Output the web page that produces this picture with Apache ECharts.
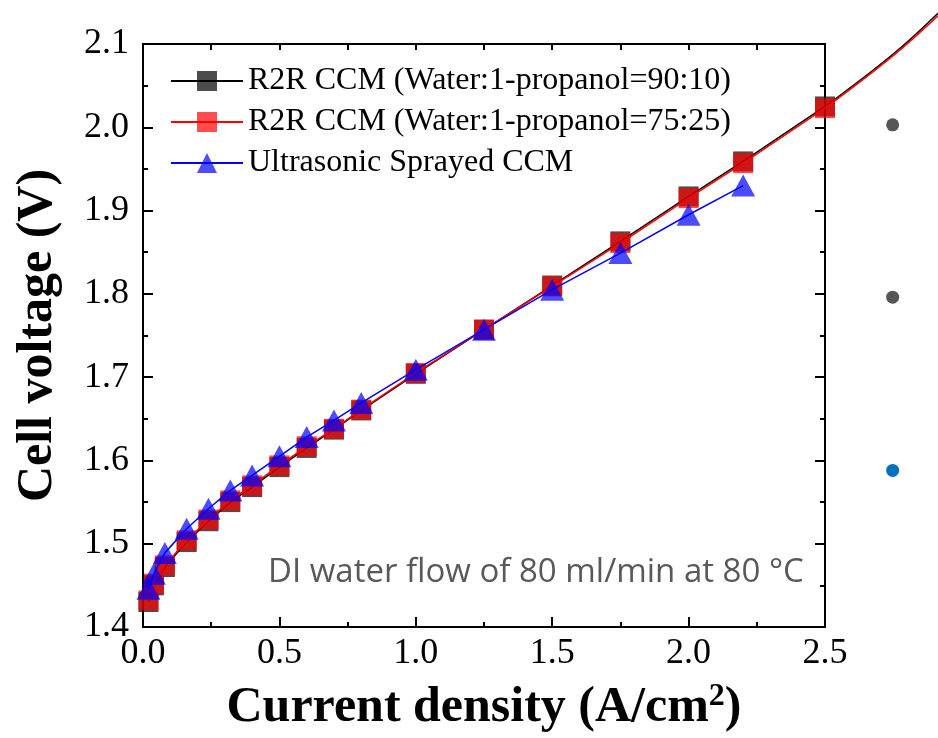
<!DOCTYPE html>
<html>
<head>
<meta charset="utf-8">
<script src="https://cdn.jsdelivr.net/npm/echarts@6/dist/echarts.min.js"></script>
<style>html,body{margin:0;padding:0;background:#fff;}#c{width:938px;height:738px;}</style>
</head>
<body>
<div id="c"></div>
<script>
// Current density (A/cm2)
const currentR2R = [0.02,0.04,0.08,0.16,0.24,0.32,0.4,0.5,0.6,0.7,0.8,1.0,1.25,1.5,1.75,2.0,2.2,2.5];
const currentUS  = [0.02,0.04,0.08,0.16,0.24,0.32,0.4,0.5,0.6,0.7,0.8,1.0,1.25,1.5,1.75,2.0,2.2];
// Cell voltage (V)
const voltR2R_90_10 = [1.430,1.450,1.472,1.502,1.527,1.550,1.568,1.592,1.615,1.637,1.660,1.704,1.757,1.810,1.863,1.917,1.959,2.025];
const voltR2R_75_25 = [1.432,1.452,1.474,1.504,1.529,1.552,1.570,1.594,1.617,1.638,1.661,1.705,1.757,1.809,1.861,1.915,1.957,2.023];
const voltUS        = [1.446,1.464,1.489,1.518,1.542,1.564,1.582,1.605,1.628,1.648,1.669,1.709,1.757,1.805,1.849,1.895,1.930];
// fit-line continuation past the frame (current, voltage)
const tail_90_10 = [[2.75, 2.088], [2.914, 2.137]];
const tail_75_25 = [[2.75, 2.086], [2.914, 2.134]];
// stray markers at the right edge (current, voltage)
const strayDots = [[2.748, 2.003], [2.748, 1.796], [2.748, 1.588]];
const strayColors = ['#555555', '#555555', '#0070C0'];
const seriesNames = ['R2R CCM (Water:1-propanol=90:10)', 'R2R CCM (Water:1-propanol=75:25)', 'Ultrasonic Sprayed CCM'];
const xTicks = {min: 0, max: 2.5, interval: 0.5};
const yTicks = {min: 1.4, max: 2.1, interval: 0.1};
const note = 'DI water flow of 80 ml/min at 80 °C';

function pts(xs, ys) { return xs.map((x, i) => [x, ys[i]]); }

// layout of the plot frame (pixels)
const W = 938, H = 738, G = {left: 143, right: 113, top: 44, bottom: 111};
const plotW = W - G.left - G.right, plotH = H - G.top - G.bottom;
// an overlay grid with the same scale that reaches the canvas edges (for the fit tail)
const extXMax = xTicks.max * (W - G.left) / plotW;
const extYMax = yTicks.min + (yTicks.max - yTicks.min) * (H - G.bottom) / plotH;

const serif = 'Liberation Serif';
const chart = echarts.init(document.getElementById('c'));
const axisLine = {show: true, onZero: false, lineStyle: {color: '#000', width: 2}};
const tickStyle = {color: '#000', width: 2};
const hidden = {show: false};
chart.setOption({
  animation: false,
  grid: [
    {left: G.left, right: G.right, top: G.top, bottom: G.bottom, containLabel: false},
    {left: G.left, right: 0, top: 0, bottom: G.bottom, containLabel: false}
  ],
  legend: {
    orient: 'vertical', left: 165, top: 60, itemWidth: 72, itemHeight: 25, itemGap: 9,
    textStyle: {fontFamily: serif, fontSize: 32, color: '#000'},
    data: seriesNames
  },
  xAxis: [{
    gridIndex: 0, type: 'value', position: 'bottom', min: xTicks.min, max: xTicks.max, interval: xTicks.interval,
    axisLine: axisLine,
    axisTick: {show: true, inside: true, length: 10, lineStyle: tickStyle},
    minorTick: {show: true, splitNumber: 2, length: 5, lineStyle: tickStyle},
    splitLine: {show: false},
    axisLabel: {fontFamily: serif, fontSize: 36, color: '#000', margin: 9, formatter: v => v.toFixed(1)},
    name: 'Current density (A/cm{sup|2})', nameLocation: 'middle', nameGap: 54,
    nameTextStyle: {fontFamily: serif, fontSize: 50, fontWeight: 'bold', color: '#000',
      rich: {sup: {fontFamily: serif, fontSize: 32, fontWeight: 'bold', color: '#000', verticalAlign: 'top', padding: [0,0,22,0]}}}
  }, {
    gridIndex: 0, type: 'value', position: 'top', min: xTicks.min, max: xTicks.max, interval: xTicks.interval / 2,
    axisLine: axisLine,
    axisTick: {show: true, inside: true, length: 6, lineStyle: tickStyle},
    axisLabel: {show: false}, splitLine: {show: false}
  }, {
    gridIndex: 1, type: 'value', min: xTicks.min, max: extXMax, show: false,
    axisLine: hidden, axisTick: hidden, axisLabel: hidden, splitLine: hidden
  }],
  yAxis: [{
    gridIndex: 0, type: 'value', position: 'left', min: yTicks.min, max: yTicks.max, interval: yTicks.interval,
    axisLine: axisLine,
    axisTick: {show: true, inside: true, length: 10, lineStyle: tickStyle},
    minorTick: {show: true, splitNumber: 2, length: 5, lineStyle: tickStyle},
    splitLine: {show: false},
    axisLabel: {fontFamily: serif, fontSize: 36, color: '#000', margin: 14, formatter: v => v.toFixed(1)},
    name: 'Cell voltage (V)', nameLocation: 'middle', nameGap: 80,
    nameTextStyle: {fontFamily: serif, fontSize: 50, fontWeight: 'bold', color: '#000'}
  }, {
    gridIndex: 0, type: 'value', position: 'right', min: yTicks.min, max: yTicks.max, interval: yTicks.interval,
    axisLine: axisLine,
    axisTick: {show: true, inside: true, length: 10, lineStyle: tickStyle},
    minorTick: {show: true, splitNumber: 2, length: 5, lineStyle: tickStyle},
    axisLabel: {show: false}, splitLine: {show: false}
  }, {
    gridIndex: 1, type: 'value', min: yTicks.min, max: extYMax, show: false,
    axisLine: hidden, axisTick: hidden, axisLabel: hidden, splitLine: hidden
  }],
  series: [{
    name: seriesNames[0], type: 'line', clip: false,
    data: pts(currentR2R, voltR2R_90_10),
    symbol: 'rect', symbolSize: 20,
    itemStyle: {color: 'rgba(0,0,0,0.7)'},
    lineStyle: {color: '#000', width: 1.5}, z: 2
  }, {
    name: seriesNames[1], type: 'line', clip: false,
    data: pts(currentR2R, voltR2R_75_25),
    symbol: 'rect', symbolSize: 20,
    itemStyle: {color: 'rgba(255,0,0,0.7)'},
    lineStyle: {color: '#ff0000', width: 1.5}, z: 3
  }, {
    name: seriesNames[2], type: 'line', clip: false,
    data: pts(currentUS, voltUS),
    symbol: 'triangle', symbolSize: [24, 22],
    itemStyle: {color: 'rgba(0,0,255,0.7)'},
    lineStyle: {color: '#0000ff', width: 1.5}, z: 4
  }, {
    type: 'line', xAxisIndex: 2, yAxisIndex: 2, clip: false, symbol: 'none', silent: true, smooth: 0.4,
    data: [[currentR2R[currentR2R.length - 1], voltR2R_90_10[voltR2R_90_10.length - 1]]].concat(tail_90_10),
    lineStyle: {color: '#000', width: 1.5}, z: 2
  }, {
    type: 'line', xAxisIndex: 2, yAxisIndex: 2, clip: false, symbol: 'none', silent: true, smooth: 0.4,
    data: [[currentR2R[currentR2R.length - 1], voltR2R_75_25[voltR2R_75_25.length - 1]]].concat(tail_75_25),
    lineStyle: {color: '#ff0000', width: 1.5}, z: 3
  }, {
    type: 'scatter', xAxisIndex: 2, yAxisIndex: 2, clip: false, symbol: 'circle', symbolSize: 13,
    data: strayDots.map((p, i) => ({value: p, itemStyle: {color: strayColors[i], opacity: 1}})),
    silent: true
  }],
  graphic: [{
    type: 'text', left: 268, top: 556,
    style: {text: note, fontFamily: 'Open Sans', fontSize: 33, fill: '#595959'}
  }]
});
</script>
</body>
</html>
